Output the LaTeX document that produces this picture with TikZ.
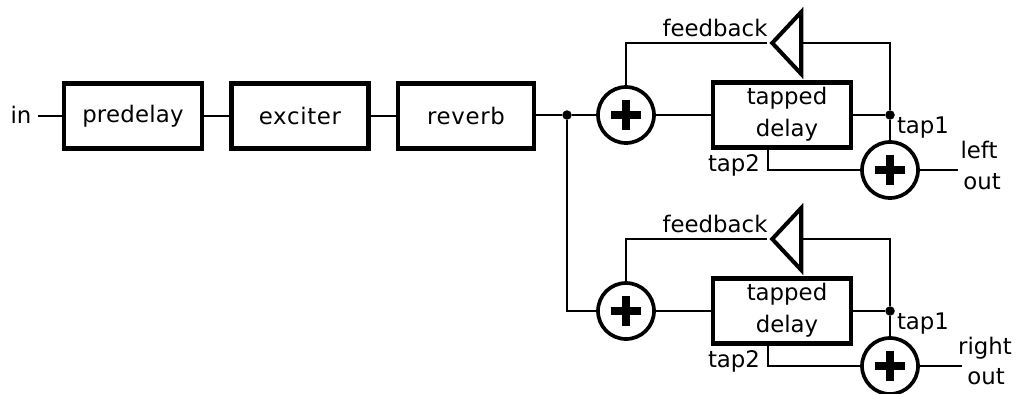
\documentclass[tikz,border=0pt]{standalone}
\usepackage{fontspec}
\setmainfont{DejaVu Sans}
\usetikzlibrary{shapes.geometric}
\tikzset{
	blockbox/.style={draw, line width=2.5pt, inner sep=0pt, minimum height=1.3cm, align=center},
	sumnode/.style={draw, circle, line width=2.1pt, inner sep=0pt, minimum size=1.12cm,
		path picture={
			\draw [line width=4.3pt] (path picture bounding box.center) +(-15,0) -- +(15,0);
			\draw [line width=4.3pt] (path picture bounding box.center) +(0,-15) -- +(0,15);
		}},
	ampnode/.style={draw, isosceles triangle, isosceles triangle stretches, shape border rotate=180,
		line width=2.3pt, inner sep=0pt, minimum width=1.24cm, minimum height=0.58cm},
	joinnode/.style={fill, circle, inner sep=0pt, minimum size=0.19cm},
	labeltext/.style={inner sep=0pt, font=\fontsize{13}{15}\selectfont},
	wire/.style={line width=1.25pt}
}
\begin{document}
\begin{tikzpicture}[x=0.02cm, y=-0.02cm]
	\useasboundingbox [fill=white] (0,0) rectangle (1020,393);
	\node [labeltext] (in) at (21,115) {in};
	\node [blockbox, minimum width=2.76cm] (predelay) at (133,116) {\fontsize{13}{15}\selectfont\addfontfeatures{LetterSpace=1} predelay};
	\node [blockbox, minimum width=2.74cm] (exciter) at (300,116) {\fontsize{13}{15}\selectfont\addfontfeatures{LetterSpace=3} exciter};
	\node [blockbox, minimum width=2.72cm] (reverb) at (466,116) {\fontsize{13}{15}\selectfont\addfontfeatures{LetterSpace=3} reverb};
	\node [joinnode] (split) at (567,115) {};
	\coordinate (instart) at (38,116);
	\draw [wire] (instart) -- (predelay);
	\draw [wire] (predelay) -- (exciter);
	\draw [wire] (exciter) -- (reverb);
	\draw [wire] (reverb.east |- split) -- (split);
	\foreach \n/\y in {L/0,R/196}
	{
		\node [sumnode] (sumin\n) at (626,\y+115) {};
		\node [blockbox, minimum width=2.76cm] (tapped\n) at (782,\y+115) {};
		\node [labeltext] at (787,\y+98) {tapped};
		\node [labeltext] at (787,\y+130) {delay};
		\node [ampnode] (amp\n) at (789,\y+43) {};
		\node [joinnode] (tapone\n) at (890,\y+115) {};
		\node [sumnode] (sumout\n) at (890,\y+170) {};
		\coordinate (taptwo\n) at (768,\y+149);
		\node [labeltext] at (715,\y+28) {feedback};
		\node [labeltext] at (923,\y+128) {tap1};
		\node [labeltext] at (734,\y+165) {tap2};
		\draw [wire] (sumin\n) -- (tapped\n);
		\draw [wire] (tapped\n) -- (tapone\n);
		\draw [wire] (tapone\n) -- (sumout\n);
		\draw [wire] (tapone\n) |- (amp\n.lower side);
		\draw [wire] (amp\n.apex) -| (sumin\n);
		\draw [wire] (taptwo\n) |- (sumout\n);
	}
	\draw [wire] (split) -- (suminL);
	\draw [wire] (split) |- (suminR);
	\coordinate (leftend) at (958,170);
	\coordinate (rightend) at (962,366);
	\draw [wire] (sumoutL) -- (leftend);
	\draw [wire] (sumoutR) -- (rightend);
	\node [labeltext] at (979,150) {left};
	\node [labeltext] at (982,182) {out};
	\node [labeltext] at (985,348) {right};
	\node [labeltext] at (986,377) {out};
\end{tikzpicture}
\end{document}
